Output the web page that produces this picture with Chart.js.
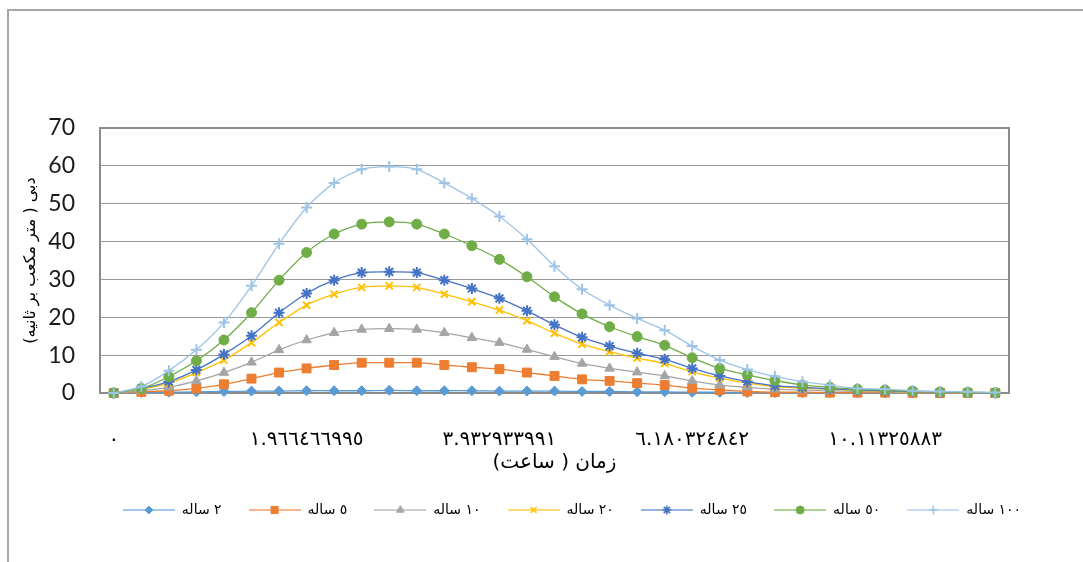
<!DOCTYPE html>
<html>
<head>
<meta charset="utf-8">
<script src="https://cdn.jsdelivr.net/npm/chart.js@4.4.0/dist/chart.umd.min.js"></script>
<style>
  body { margin: 0; background: #fff; }
  #wrap { position: relative; width: 1083px; height: 562px; overflow: hidden; }
  #frame { position: absolute; left: 7px; top: 9px; width: 1200px; height: 700px;
           border-top: 2px solid #a6a6a6; border-left: 2px solid #a6a6a6; }
  canvas { position: absolute; left: 0; top: 0; direction: rtl; }
</style>
</head>
<body>
<div id="wrap"><div id="frame"></div><canvas id="section" width="1083" height="562"></canvas></div>
<script>
// x categories (only every 7th label is shown in the original)
const categories = [
  "٠", "", "", "", "", "", "", "١.٩٦٦٤٦٦٩٩٥", "", "", "", "", "", "", "٣.٩٣٢٩٣٣٩٩١",
  "", "", "", "", "", "", "٦.١٨٠٣٢٤٨٤٢", "", "", "", "", "", "", "١٠.١١٣٢٥٨٨٣",
  "", "", "", ""
];

const names = ["٢ ساله", "٥ ساله", "١٠ ساله", "٢٠ ساله", "٢٥ ساله", "٥٠ ساله", "١٠٠ ساله"];
const colors = ["#5B9BD5", "#ED7D31", "#A5A5A5", "#FFC000", "#4472C4", "#70AD47", "#9DC3E6"];
const markers = ["rectRot", "rect", "triangle", "crossRot", "star", "circle", "cross"];
const markerSize = [5, 6.3, 5.5, 5, 5.5, 5, 5.5];

const q2 = [0, 0.1, 0.2, 0.3, 0.4, 0.5, 0.5, 0.6, 0.6, 0.6, 0.7, 0.6, 0.6,
  0.6, 0.5, 0.5, 0.5, 0.4, 0.4, 0.3, 0.3, 0.2,
  0.2, 0.1, 0.1, 0.1, 0.1, 0, 0, 0, 0, 0, 0];
const q5 = [0, 0.3, 0.6, 1.2, 2.3, 3.8, 5.4, 6.5, 7.4, 8.0, 8.0, 8.0, 7.4,
  6.8, 6.3, 5.4, 4.5, 3.6, 3.2, 2.6, 2.1, 1.3,
  0.8, 0.4, 0.2, 0.2, 0.1, 0.1, 0.1, 0.05, 0, 0, 0];
const q10 = [0, 0.6, 1.5, 3.2, 5.4, 8.1, 11.4, 14.0, 15.9, 16.8, 17.0, 16.8, 15.9,
  14.6, 13.3, 11.5, 9.6, 7.8, 6.5, 5.5, 4.5, 3.2,
  2.1, 1.5, 1.0, 0.8, 0.6, 0.4, 0.3, 0.2, 0.1, 0.1, 0];
const q20 = [0, 1.0, 2.6, 5.4, 8.7, 13.3, 18.6, 23.2, 26.1, 27.9, 28.3, 27.9, 26.1,
  24.1, 21.9, 19.1, 15.8, 12.9, 10.9, 9.2, 7.8, 5.6,
  3.9, 2.6, 1.7, 1.3, 1.0, 0.7, 0.5, 0.3, 0.2, 0.1, 0];
const q25 = [0, 1.2, 3.0, 6.1, 10.2, 15.1, 21.2, 26.3, 29.8, 31.8, 32.0, 31.8, 29.8,
  27.6, 25.0, 21.7, 18.0, 14.7, 12.4, 10.5, 8.9, 6.5,
  4.5, 3.0, 1.9, 1.5, 1.1, 0.8, 0.6, 0.4, 0.2, 0.1, 0];
const q50 = [0, 1.2, 4.3, 8.5, 14.0, 21.2, 29.8, 37.1, 42.0, 44.6, 45.2, 44.6, 42.0,
  38.9, 35.3, 30.7, 25.4, 20.9, 17.5, 14.9, 12.6, 9.3,
  6.5, 4.8, 3.3, 2.1, 1.5, 1.0, 0.8, 0.5, 0.3, 0.2, 0.1];
const q100 = [0, 1.7, 5.9, 11.4, 18.6, 28.3, 39.4, 49.0, 55.5, 59.1, 59.8, 59.1, 55.5,
  51.4, 46.6, 40.6, 33.5, 27.4, 23.2, 19.7, 16.6, 12.4,
  8.7, 6.2, 4.4, 3.0, 2.1, 1.2, 1.0, 0.6, 0.4, 0.3, 0.1];
const allSeries = [q2, q5, q10, q20, q25, q50, q100];

const yMin = 0, yMax = 70, yStep = 10;

function isLineMarker(m) { return m === "cross" || m === "crossRot" || m === "star"; }

// small pictures for the legend: a line with the marker in the middle
function legendIcon(i) {
  const c = document.createElement("canvas");
  c.width = 52; c.height = 14;
  const g = c.getContext("2d");
  g.globalAlpha = 0.55;
  g.strokeStyle = colors[i];
  g.lineWidth = 2;
  g.beginPath(); g.moveTo(0, 7); g.lineTo(52, 7); g.stroke();
  g.globalAlpha = 1;
  g.fillStyle = colors[i];
  g.strokeStyle = colors[i];
  g.lineWidth = isLineMarker(markers[i]) ? 1.6 : 1;
  Chart.helpers.drawPoint(g, { pointStyle: markers[i], radius: markerSize[i] * 0.8, rotation: 0, borderWidth: g.lineWidth }, 26, 7);
  return c;
}
const icons = names.map((n, i) => legendIcon(i));

const datasets = allSeries.map((vals, i) => ({
  label: names[i],
  data: vals,
  borderColor: colors[i],
  backgroundColor: colors[i],
  borderWidth: 1.3,
  pointStyle: markers[i],
  pointRadius: markerSize[i],
  pointBackgroundColor: colors[i],
  pointBorderColor: colors[i],
  pointBorderWidth: isLineMarker(markers[i]) ? 2 : 1,
  tension: 0.25,
  clip: false,
  order: allSeries.length - 1 - i
}));

const plotFrame = {
  id: "plotFrame",
  beforeDatasetsDraw(chart) {
    const a = chart.chartArea, ctx = chart.ctx;
    ctx.save();
    ctx.strokeStyle = "#8c8c8c";
    ctx.lineWidth = 2;
    ctx.strokeRect(a.left, a.top, a.right - a.left, a.bottom - a.top);
    ctx.restore();
  },
  afterLayout(chart) {
    // move the legend row to the right like the original
    chart.legend.left = 0;
    chart.legend.right = 1144;
    chart.legend.width = 1144;
  }
};

const ctx = document.getElementById("section");
new Chart(ctx, {
  type: "line",
  data: { labels: categories, datasets: datasets },
  plugins: [plotFrame],
  options: {
    responsive: false,
    animation: false,
    layout: { padding: { top: 128, right: 74, bottom: 35, left: 0 } },
    plugins: {
      tooltip: { enabled: false },
      legend: {
        position: "bottom",
        labels: {
          usePointStyle: true,
          pointStyleWidth: 52,
          padding: 27,
          color: "#000",
          font: { family: "DejaVu Sans", size: 14 },
          sort: (a, b) => a.datasetIndex - b.datasetIndex,
          generateLabels(chart) {
            const items = Chart.defaults.plugins.legend.labels.generateLabels(chart);
            items.forEach(it => { it.pointStyle = icons[it.datasetIndex]; });
            return items;
          }
        }
      }
    },
    scales: {
      x: {
        offset: true,
        grid: { display: false, drawTicks: false },
        border: { display: true, color: "#8c8c8c", width: 2 },
        ticks: {
          autoSkip: false, maxRotation: 0, padding: 35, color: "#000",
          font: { family: "DejaVu Sans", size: 20 }
        },
        title: {
          display: true, text: "زمان ( ساعت)", color: "#000",
          font: { family: "DejaVu Sans", size: 20 },
          padding: { top: 1, bottom: 1 }
        },
        afterFit(s) { s.height = 83; }
      },
      y: {
        min: yMin, max: yMax,
        grid: { color: "#999999", lineWidth: 1, drawTicks: false },
        border: { display: true, color: "#8c8c8c", width: 2 },
        ticks: {
          stepSize: yStep, padding: 25, color: "#1a1a1a",
          font: { family: "Lato", size: 23 }
        },
        title: {
          display: true, text: "دبی ( متر مکعب بر ثانیه)", color: "#000",
          font: { family: "DejaVu Sans", size: 16 },
          padding: { top: 21, bottom: 0 }
        },
        afterFit(s) { s.width = 100; }
      }
    }
  }
});
</script>
</body>
</html>
